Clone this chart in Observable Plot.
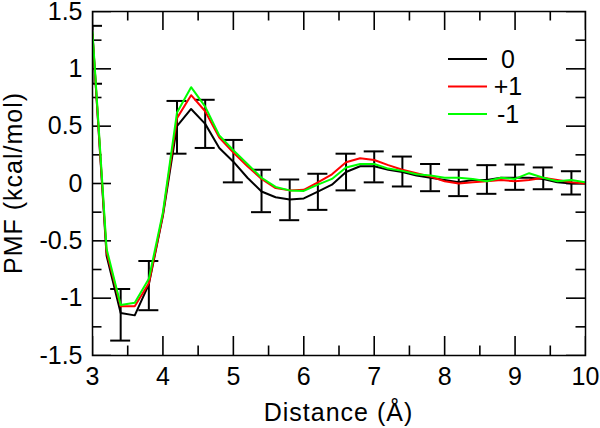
<!DOCTYPE html>
<html><head><meta charset="utf-8">
<script src="https://cdn.jsdelivr.net/npm/d3@7"></script>
<script src="https://cdn.jsdelivr.net/npm/@observablehq/plot@0.6"></script>
<style>body{margin:0;background:#fff}</style>
</head><body><div id="chart"></div>
<script>
const distance = [3.0,3.2,3.4,3.6,3.8,4.0,4.2,4.4,4.6,4.8,5.0,5.2,5.4,5.6,5.8,6.0,6.2,6.4,6.6,6.8,7.0,7.2,7.4,7.6,7.8,8.0,8.2,8.4,8.6,8.8,9.0,9.2,9.4,9.6,9.8,10.0];
const pmf0 =      [1.30,-0.63,-1.13,-1.15,-0.88,-0.28,0.50,0.65,0.52,0.31,0.19,0.05,-0.07,-0.12,-0.14,-0.13,-0.07,-0.01,0.10,0.15,0.15,0.12,0.10,0.07,0.05,0.03,0.01,0.03,0.03,0.05,0.05,0.05,0.04,0.01,0.00,0.00];
const pmfPlus1 =  [1.30,-0.60,-1.07,-1.07,-0.87,-0.27,0.57,0.77,0.63,0.40,0.27,0.15,0.04,-0.04,-0.06,-0.055,0.01,0.08,0.185,0.22,0.205,0.16,0.12,0.09,0.06,0.02,0.00,0.01,0.02,0.03,0.02,0.03,0.05,0.03,0.01,0.00];
const pmfMinus1 = [1.32,-0.57,-1.06,-1.04,-0.83,-0.25,0.62,0.84,0.67,0.42,0.29,0.17,0.05,-0.03,-0.06,-0.065,-0.01,0.04,0.14,0.17,0.17,0.13,0.11,0.08,0.07,0.05,0.05,0.04,0.02,0.05,0.04,0.09,0.05,0.02,0.03,0.01];
const errX =  [3.0,3.4,3.8,4.2,4.6,5.0,5.4,5.8,6.2,6.6,7.0,7.4,7.8,8.2,8.6,9.0,9.4,9.8];
const errLo = [0.87,-1.37,-1.105,0.26,0.31,0.01,-0.25,-0.32,-0.23,-0.06,0.01,-0.026,-0.067,-0.11,-0.09,-0.055,-0.05,-0.096];
const errHi = [1.375,-0.92,-0.676,0.72,0.73,0.38,0.12,0.035,0.085,0.26,0.28,0.235,0.17,0.12,0.16,0.165,0.14,0.107];
const xTicks = [3,4,5,6,7,8,9,10];
const xTickLabels = ["3","4","5","6","7","8","9","10"];
const xMinor = [3.5,4.5,5.5,6.5,7.5,8.5,9.5];
const yTicks = [-1.5,-1,-0.5,0,0.5,1,1.5];
const yTickLabels = ["-1.5","-1","-0.5","0","0.5","1","1.5"];
const yMinor = [-1.25,-0.75,-0.25,0.25,0.75,1.25];
const seriesNames = ["0","+1","-1"];
const seriesColors = ["#000000","#ff0000","#00ff00"];
const xTitle = "Distance (Å)";
const yTitle = "PMF (kcal/mol)";

const W = 600, H = 428;
const mL = 92, mR = 15, mT = 11, mB = 73;
const plotH = H - mT - mB, plotW = W - mL - mR;
const xDom = [3, 10], yDom = [-1.5, 1.5];
const majorLen = 19, minorLen = 9.5;

const seriesValues = [pmf0, pmfPlus1, pmfMinus1];
const lineData = [];
seriesValues.forEach((vals, s) => vals.forEach((v, i) => lineData.push({x: distance[i], y: v, s: seriesNames[s]})));
const errData = errX.map((x, i) => ({x, lo: errLo[i], hi: errHi[i]}));

const tk = {stroke: "#000000", strokeWidth: 1.6, clip: true};
// inward ticks: zero-length rules at the frame edges, extended inward by negative insets
const xEdgeTicks = (ticks, len) => [
  Plot.ruleX(ticks, {x: d => d, y1: () => yDom[0], y2: () => yDom[0], insetTop: -len, ...tk}),
  Plot.ruleX(ticks, {x: d => d, y1: () => yDom[1], y2: () => yDom[1], insetBottom: -len, ...tk})
];
const yEdgeTicks = (ticks, len) => [
  Plot.ruleY(ticks, {y: d => d, x1: () => xDom[0], x2: () => xDom[0], insetRight: -len, ...tk}),
  Plot.ruleY(ticks, {y: d => d, x1: () => xDom[1], x2: () => xDom[1], insetLeft: -len, ...tk})
];

const chart = Plot.plot({
  width: W, height: H,
  marginLeft: mL, marginRight: mR, marginTop: mT, marginBottom: mB,
  style: {fontFamily: "'Liberation Sans', Arial, sans-serif", fontSize: "25px", background: "#fff", overflow: "visible"},
  x: {domain: xDom},
  y: {domain: yDom},
  color: {domain: seriesNames, range: seriesColors},
  marks: [
    Plot.axisX({ticks: xTicks, tickSize: 0, tickPadding: 12, label: null, fontSize: 25, tickFormat: d => xTickLabels[xTicks.indexOf(d)]}),
    Plot.axisY({ticks: yTicks, tickSize: 0, tickPadding: 10, label: null, fontSize: 25, tickFormat: d => yTickLabels[yTicks.indexOf(d)]}),
    ...xEdgeTicks(xTicks, majorLen),
    ...xEdgeTicks(xMinor, minorLen),
    ...yEdgeTicks(yTicks, majorLen),
    ...yEdgeTicks(yMinor, minorLen),
    // error bars
    Plot.ruleX(errData, {x: "x", y1: "lo", y2: "hi", stroke: "#000", strokeWidth: 2, clip: true}),
    Plot.ruleY(errData, {y: "lo", x1: "x", x2: "x", insetLeft: -10, insetRight: -10, stroke: "#000", strokeWidth: 2, clip: true}),
    Plot.ruleY(errData, {y: "hi", x1: "x", x2: "x", insetLeft: -10, insetRight: -10, stroke: "#000", strokeWidth: 2, clip: true}),
    // lines
    Plot.line(lineData, {x: "x", y: "y", z: "s", stroke: "s", strokeWidth: 2, clip: true}),
    Plot.frame({stroke: "#000", strokeWidth: 1.5})
  ]
});
const svg = d3.select(chart);
// axis titles
svg.append("text").attr("x", mL + plotW / 2).attr("y", 421).attr("text-anchor", "middle")
  .attr("font-size", 25).attr("letter-spacing", "1px").attr("fill", "#000").text(xTitle);
svg.append("text").attr("transform", `translate(22,${mT + plotH / 2}) rotate(-90)`).attr("text-anchor", "middle")
  .attr("font-size", 25).attr("letter-spacing", "1px").attr("fill", "#000").text(yTitle);
// legend
const leg = svg.append("g");
seriesNames.forEach((name, i) => {
  const y = 59 + i * 27.5;
  leg.append("line").attr("x1", 448).attr("x2", 487).attr("y1", y).attr("y2", y)
    .attr("stroke", seriesColors[i]).attr("stroke-width", 2);
  leg.append("text").attr("x", 508).attr("y", y).attr("dy", "0.35em").attr("font-size", 25)
    .attr("fill", "#000").text(name);
});
document.getElementById("chart").appendChild(chart);
</script>
</body></html>
